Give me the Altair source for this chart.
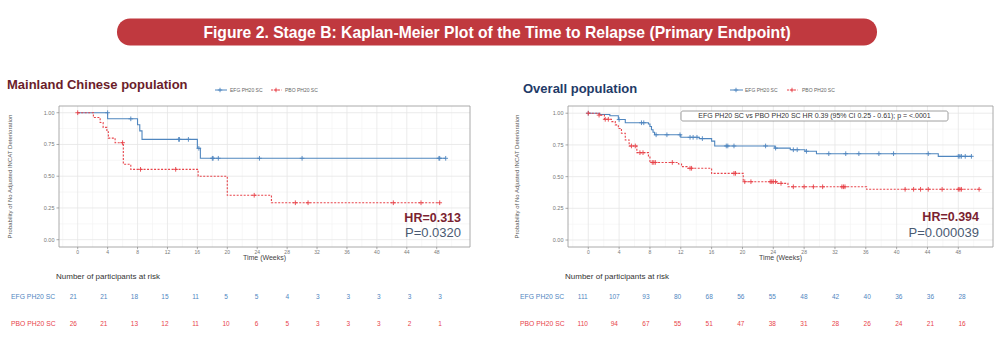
import altair as alt
import pandas as pd

# ---------------- data ----------------
# Mainland Chinese population (left panel)
cn_efg_t = [0, 4.0, 8.0, 8.3, 8.6, 16.0, 16.4, 49.2]
cn_efg_s = [1.0, 0.952, 0.905, 0.857, 0.79, 0.72, 0.641, 0.641]
cn_efg_ct = [4.0, 7.1, 13.5, 13.6, 14.8, 16.2, 18.0, 18.1, 18.8, 24.3, 30.0, 48.3, 48.4, 49.2]
cn_efg_cs = [1.0, 0.952, 0.79, 0.79, 0.79, 0.72, 0.641, 0.641, 0.641, 0.641, 0.641, 0.641, 0.641, 0.641]

cn_pbo_t = [0, 2.1, 3.0, 3.4, 3.9, 4.1, 5.0, 6.1, 7.1, 16.1, 20.0, 25.9, 48.4]
cn_pbo_s = [1.0, 0.962, 0.923, 0.885, 0.85, 0.80, 0.764, 0.594, 0.554, 0.50, 0.35, 0.291, 0.291]
cn_pbo_ct = [0, 6.0, 8.4, 13.1, 23.6, 29.1, 30.8, 42.2, 45.9, 48.4]
cn_pbo_cs = [1.0, 0.764, 0.554, 0.554, 0.35, 0.291, 0.291, 0.291, 0.291, 0.291]

# Overall population (right panel)
ov_efg_t = [0, 1.5, 2.8, 3.9, 4.8, 7.8, 8.0, 8.2, 8.4, 8.6, 12.0, 14.4, 16.0, 16.4,
            24.2, 26.2, 28.1, 29.6, 45.4, 49.8]
ov_efg_s = [1.0, 0.99, 0.98, 0.95, 0.925, 0.915, 0.895, 0.87, 0.85, 0.83, 0.81, 0.80, 0.78, 0.742,
            0.725, 0.712, 0.70, 0.681, 0.66, 0.66]
ov_efg_ct = [0, 4.0, 6.9, 7.2, 8.8, 10.2, 11.9, 13.2, 13.6, 14.1, 14.8, 17.9, 18.1, 18.9, 23.0,
             24.3, 26.6, 27.1, 28.3, 31.2, 33.4, 35.1, 37.7, 39.6, 44.1, 48.0, 48.2, 48.4, 48.9, 49.7]
ov_efg_cs = [1.0, 0.95, 0.925, 0.925, 0.83, 0.83, 0.83, 0.81, 0.81, 0.81, 0.80, 0.742, 0.742, 0.742, 0.742,
             0.725, 0.712, 0.712, 0.70, 0.681, 0.681, 0.681, 0.681, 0.681, 0.681, 0.66, 0.66, 0.66, 0.66, 0.66]

ov_pbo_t = [0, 1.4, 2.1, 3.0, 3.5, 3.9, 4.3, 4.8, 5.3, 6.3, 7.8, 8.0, 11.7, 12.1, 12.8, 16.0,
            20.1, 24.4, 25.9, 36.1, 50.7]
ov_pbo_s = [1.0, 0.985, 0.952, 0.934, 0.908, 0.88, 0.842, 0.789, 0.742, 0.689, 0.663, 0.612, 0.60, 0.579,
            0.566, 0.526, 0.46, 0.447, 0.42, 0.40, 0.40]
ov_pbo_ct = [0, 1.4, 2.2, 2.6, 5.6, 6.1, 6.7, 7.1, 8.3, 8.5, 8.7, 10.9, 13.2, 13.4, 18.9, 19.1, 20.3, 21.1,
             23.6, 23.8, 24.0, 24.3, 25.0, 26.6, 28.0, 29.2, 30.4, 32.9, 33.1, 33.3, 41.1, 42.2, 43.1,
             44.1, 45.9, 48.0, 48.2, 48.4, 50.7]
ov_pbo_cs = [1.0, 0.985, 0.952, 0.952, 0.742, 0.742, 0.689, 0.689, 0.612, 0.612, 0.612, 0.612, 0.566, 0.566,
             0.526, 0.526, 0.46, 0.46, 0.46, 0.46, 0.46, 0.46, 0.447, 0.42, 0.42, 0.42, 0.42, 0.42, 0.42,
             0.42, 0.40, 0.40, 0.40, 0.40, 0.40, 0.40, 0.40, 0.40, 0.40]

risk_weeks = [0, 4, 8, 12, 16, 20, 24, 28, 32, 36, 40, 44, 48]
cn_risk_efg = [21, 21, 18, 15, 11, 5, 5, 4, 3, 3, 3, 3, 3]
cn_risk_pbo = [26, 21, 13, 12, 11, 10, 6, 5, 3, 3, 3, 2, 1]
ov_risk_efg = [111, 107, 93, 80, 68, 56, 55, 48, 42, 40, 36, 36, 28]
ov_risk_pbo = [110, 94, 67, 55, 51, 47, 38, 31, 28, 26, 24, 21, 16]

x_ticks = list(range(0, 49, 4))
x_minor = list(range(-2, 53, 4))
y_ticks = [0.0, 0.25, 0.5, 0.75, 1.0]
y_tick_labels = ["0.00", "0.25", "0.50", "0.75", "1.00"]
y_minor = [0.125, 0.375, 0.625, 0.875]

BLUE = "#4F86BF"
RED = "#E8434A"
FONT = "Liberation Sans"
ONE = pd.DataFrame({"d": [0]})


def txt(text, x, y, size, color, bold=False, align="left", angle=0, baseline="middle"):
    kw = dict(text=text, fontSize=size, color=color, font=FONT, align=align, baseline=baseline,
              fontWeight="bold" if bold else "normal")
    if angle:
        kw["angle"] = angle
    return alt.Chart(ONE).mark_text(**kw).encode(x=alt.value(x), y=alt.value(y))


def panel(x0, x1, y0, y1, xdom, ydom, efg, pbo, risk_rng, risk_efg, risk_pbo, label_x, ytitle_x):
    xs = alt.Scale(domain=xdom, range=[x0, x1], nice=False, zero=False)
    ys = alt.Scale(domain=ydom, range=[y1, y0], nice=False, zero=False)
    xt = pd.DataFrame({"v": x_ticks})
    yt = pd.DataFrame({"v": y_ticks, "lab": y_tick_labels})
    vgrid_major = alt.Chart(xt).mark_rule(color="#E6E6E6", strokeWidth=0.8).encode(
        x=alt.X("v:Q", scale=xs, axis=None), y=alt.value(y0), y2=alt.value(y1))
    vgrid_minor = alt.Chart(pd.DataFrame({"v": x_minor})).mark_rule(color="#F2F2F2", strokeWidth=0.6).encode(
        x=alt.X("v:Q", scale=xs, axis=None), y=alt.value(y0), y2=alt.value(y1))
    hgrid_major = alt.Chart(yt).mark_rule(color="#E6E6E6", strokeWidth=0.8).encode(
        y=alt.Y("v:Q", scale=ys, axis=None), x=alt.value(x0), x2=alt.value(x1))
    hgrid_minor = alt.Chart(pd.DataFrame({"v": y_minor})).mark_rule(color="#F2F2F2", strokeWidth=0.6).encode(
        y=alt.Y("v:Q", scale=ys, axis=None), x=alt.value(x0), x2=alt.value(x1))
    frame = alt.Chart(ONE).mark_rect(fill="transparent", stroke="#A0A0A0", strokeWidth=0.9).encode(
        x=alt.value(x0), x2=alt.value(x1), y=alt.value(y0), y2=alt.value(y1))
    # axis ticks and tick labels
    xtick = alt.Chart(xt).mark_rule(color="#888888", strokeWidth=0.7).encode(
        x=alt.X("v:Q", scale=xs, axis=None), y=alt.value(y1), y2=alt.value(y1 + 2.2))
    xlab = alt.Chart(xt).mark_text(fontSize=5, color="#777777", font=FONT, baseline="middle",
                                   align="center").encode(
        x=alt.X("v:Q", scale=xs, axis=None), y=alt.value(y1 + 4.5), text="v:Q")
    ytick = alt.Chart(yt).mark_rule(color="#888888", strokeWidth=0.7).encode(
        y=alt.Y("v:Q", scale=ys, axis=None), x=alt.value(x0 - 2.5), x2=alt.value(x0))
    ylab = alt.Chart(yt).mark_text(fontSize=5.5, color="#777777", font=FONT, baseline="middle",
                                   align="right").encode(
        y=alt.Y("v:Q", scale=ys, axis=None), x=alt.value(x0 - 4.5), text="lab:N")

    layers = [vgrid_minor, hgrid_minor, vgrid_major, hgrid_major, frame, xtick, xlab, ytick, ylab]
    for (t, s, ct, cs), color, dash in ((efg, BLUE, None), (pbo, RED, [2, 1.5])):
        lk = dict(interpolate="step-after", color=color, strokeWidth=1.1)
        if dash:
            lk["strokeDash"] = dash
        layers.append(alt.Chart(pd.DataFrame({"t": t, "s": s})).mark_line(**lk).encode(
            x=alt.X("t:Q", scale=xs, axis=None), y=alt.Y("s:Q", scale=ys, axis=None)))
        layers.append(alt.Chart(pd.DataFrame({"t": ct, "s": cs})).mark_point(
            shape="M-1,0L1,0M0,-1L0,1", size=22, filled=False, color=color, strokeWidth=0.9, opacity=1).encode(
            x=alt.X("t:Q", scale=xs, axis=None), y=alt.Y("s:Q", scale=ys, axis=None)))
    plot = alt.layer(*layers)

    rs = alt.Scale(domain=[0, 48], range=risk_rng, nice=False, zero=False)
    risk = alt.layer(
        alt.Chart(pd.DataFrame({"w": risk_weeks, "n": risk_efg})).mark_text(
            fontSize=6.5, color=BLUE, font=FONT, align="center", baseline="middle").encode(
            x=alt.X("w:Q", scale=rs, axis=None), y=alt.value(297), text="n:Q"),
        alt.Chart(pd.DataFrame({"w": risk_weeks, "n": risk_pbo})).mark_text(
            fontSize=6.5, color=RED, font=FONT, align="center", baseline="middle").encode(
            x=alt.X("w:Q", scale=rs, axis=None), y=alt.value(324), text="n:Q"),
    )
    cx = (x0 + x1) / 2
    extras = [
        txt("Time (Weeks)", cx, 257.8, 7, "#444444", align="center"),
        txt("Probability of No Adjusted INCAT Deterioration", ytitle_x, (y0 + y1) / 2, 6, "#555555",
            align="center", angle=270),
        txt("Number of participants at risk", label_x + 45, 277, 8, "#333333"),
        txt("EFG PH20 SC", label_x, 297, 6.8, BLUE),
        txt("PBO PH20 SC", label_x, 324, 6.8, RED),
    ]
    return alt.layer(plot, risk).resolve_scale(x="independent"), extras


def legend_item(x_line0, x_line1, x_plus, x_text, label, color, dash):
    mk = dict(color=color, strokeWidth=1)
    if dash:
        mk["strokeDash"] = dash
    return [
        alt.Chart(ONE).mark_rule(**mk).encode(x=alt.value(x_line0), x2=alt.value(x_line1), y=alt.value(90)),
        alt.Chart(ONE).mark_point(shape="M-1,0L1,0M0,-1L0,1", size=20, filled=False, color=color,
                                  strokeWidth=0.9, opacity=1).encode(x=alt.value(x_plus), y=alt.value(90)),
        txt(label, x_text, 90, 5, "#666666"),
    ]


left, left_extras = panel(59, 470, 106, 247, [-2.5, 52.45], [-0.0575, 1.053],
                          (cn_efg_t, cn_efg_s, cn_efg_ct, cn_efg_cs),
                          (cn_pbo_t, cn_pbo_s, cn_pbo_ct, cn_pbo_cs),
                          [73.3, 440], cn_risk_efg, cn_risk_pbo, 11, 10)
right, right_extras = panel(568, 993, 106, 247, [-2.63, 52.5], [-0.055, 1.057],
                            (ov_efg_t, ov_efg_s, ov_efg_ct, ov_efg_cs),
                            (ov_pbo_t, ov_pbo_s, ov_pbo_ct, ov_pbo_cs),
                            [582.7, 962], ov_risk_efg, ov_risk_pbo, 520, 517)

decor = [
    alt.Chart(ONE).mark_rect(fill="#C0393F", cornerRadius=13).encode(
        x=alt.value(117), x2=alt.value(877), y=alt.value(18.5), y2=alt.value(45.5)),
    txt("Figure 2. Stage B: Kaplan-Meier Plot of the Time to Relapse (Primary Endpoint)", 497, 32.5, 15.7,
        "#FFFFFF", bold=True, align="center"),
    txt("Mainland Chinese population", 7, 85, 13, "#6B1D2A", bold=True),
    txt("Overall population", 523, 89, 13, "#1F3B68", bold=True),
    txt("HR=0.313", 461, 217.5, 12.5, "#7A2230", bold=True, align="right"),
    txt("P=0.0320", 461, 233, 13, "#4A5A72", align="right"),
    txt("HR=0.394", 979, 217, 12.5, "#7A2230", bold=True, align="right"),
    txt("P=0.000039", 979, 232.7, 13, "#4A5A72", align="right"),
    alt.Chart(ONE).mark_rect(fill="#FFFFFF", stroke="#888888", strokeWidth=0.8, cornerRadius=2).encode(
        x=alt.value(681), x2=alt.value(948), y=alt.value(111), y2=alt.value(121)),
    txt("EFG PH20 SC vs PBO PH20 SC HR 0.39 (95% CI 0.25 - 0.61); p = <.0001", 814.5, 116, 7, "#333333",
        align="center"),
]
decor += legend_item(215, 227, 220, 230, "EFG PH20 SC", BLUE, None)
decor += legend_item(271, 282, 276, 285, "PBO PH20 SC", RED, [2, 1.5])
decor += legend_item(730, 743, 736, 745, "EFG PH20 SC", BLUE, None)
decor += legend_item(787, 798, 792, 802, "PBO PH20 SC", RED, [2, 1.5])

chart = alt.layer(left, right, *left_extras, *right_extras, *decor).resolve_scale(
    x="independent", y="independent"
).properties(
    width=1002, height=343, autosize=alt.AutoSizeParams(type="none"), padding=0,
    background="#FFFFFF"
).configure_view(stroke=None)

chart.save("out.html", embed_options={"renderer": "svg", "actions": False})
